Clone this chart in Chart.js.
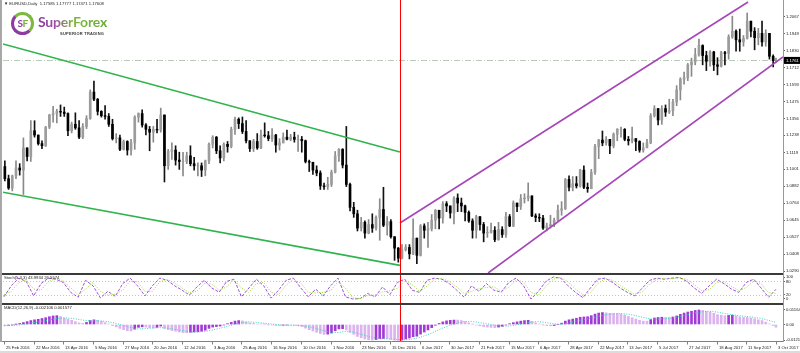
<!DOCTYPE html>
<html>
<head>
<meta charset="utf-8">
<script src="https://cdn.jsdelivr.net/npm/chart.js@4.4.0/dist/chart.umd.min.js"></script>
<style>
  html, body { margin: 0; padding: 0; background: #fff; }
  #wrap { position: relative; width: 800px; height: 353px; overflow: hidden; background: #fff; font-family: 'Liberation Sans', Arial, sans-serif; }
  canvas { position: absolute; left: 0; }
  .sep { position: absolute; left: 0; width: 783px; height: 2px; background: #3a3a3a; }
  .txt { position: absolute; font-size: 4.2px; line-height: 1; color: #222; white-space: nowrap; }
  #leftEdge { position: absolute; left: 0; top: 0; width: 2px; height: 342px; background: #a8a8a8; }
  #axisLine { position: absolute; left: 783px; top: 0; width: 1px; height: 342px; background: #999; }
  #bottomStrip { position: absolute; left: 0; top: 351px; width: 800px; height: 2px; background: #dcdcdc; }
  #ring { position: absolute; left: 11px; top: 12px; width: 17px; height: 17px; border: 3px solid; border-color: #7db83f #7db83f #8e3b9f #8e3b9f; border-radius: 50%;
          font: bold 10px Lato, sans-serif; line-height: 17px; text-align: center; letter-spacing: -0.5px; }
  #ring span.s { color: #8e3b9f; }
  #ring span.f { color: #76b43c; }
  #brand { position: absolute; left: 38px; top: 15px; font: bold 14px Lato, sans-serif; line-height: 1; letter-spacing: -0.2px;
           background: linear-gradient(90deg, #8a3a9e 0%, #9a4aa6 25%, #80b83e 50%, #6aa834 100%);
           -webkit-background-clip: text; background-clip: text; color: transparent; }
  #tag { position: absolute; left: 60px; top: 32px; font: bold 4px 'Liberation Sans', Arial, sans-serif; line-height: 1; color: #3a3a3a; letter-spacing: 0.25px; }
</style>
</head>
<body>
<div id="wrap">
  <canvas id="price" width="800" height="273" style="top:0px"></canvas>
  <canvas id="stoch" width="800" height="28" style="top:275px"></canvas>
  <canvas id="macd" width="800" height="48" style="top:305px"></canvas>
  <div class="sep" style="top:273px"></div>
  <div class="sep" style="top:303px"></div>
  <div id="leftEdge"></div>
  <div id="axisLine"></div>
  <div id="bottomStrip"></div>
  <div class="txt" style="left:4px;top:2px;">&#9660; EURUSD,Daily&nbsp; 1.17585 1.17777 1.17471 1.17608</div>
  <div class="txt" style="left:4px;top:276px;">Stoch(5,3,3) 43.9934 26.5574</div>
  <div class="txt" style="left:4px;top:306px;">MACD(12,26,9) -0.002106 0.001577</div>
  <div id="ring"><span class="s">S</span><span class="f">F</span></div>
  <div id="brand">SuperForex</div>
  <div id="tag">SUPERIOR TRADING</div>
</div>
<script>
// --- datos (velas de 2 sesiones) ---
const dateLabels = ['25 Feb 2016', '22 Mar 2016', '13 Apr 2016', '5 May 2016', '27 May 2016', '20 Jun 2016', '12 Jul 2016',
  '3 Aug 2016', '25 Aug 2016', '16 Sep 2016', '10 Oct 2016', '1 Nov 2016', '23 Nov 2016', '15 Dec 2016', '6 Jan 2017',
  '30 Jan 2017', '21 Feb 2017', '15 Mar 2017', '6 Apr 2017', '28 Apr 2017', '22 May 2017', '13 Jun 2017', '5 Jul 2017',
  '27 Jul 2017', '18 Aug 2017', '11 Sep 2017', '3 Oct 2017'];
const dateBars = [0, 16, 32, 48, 64, 80, 96, 112, 128, 144, 160, 176, 192, 208, 224, 240, 256, 272, 288, 304, 320, 336, 352, 368, 384, 400, 416];

const priceTicks = [1.2067, 1.1949, 1.1830, 1.1712, 1.1593, 1.1475, 1.1356, 1.1238, 1.1119, 1.1001, 1.0882, 1.0764, 1.0645, 1.0527, 1.0408, 1.0290];

const firstOpen = 1.1020;
const closeV = [
  1.0935, 1.0870, 1.0955, 1.1010, 1.0995, 1.1150, 1.1090, 1.1270, 1.1240, 1.1180, 1.1165, 1.1295, 1.1380, 1.1390, 1.1405, 1.1400,
  1.1390, 1.1270, 1.1315, 1.1290, 1.1225, 1.1300, 1.1355, 1.1540, 1.1490, 1.1405, 1.1375, 1.1370, 1.1315, 1.1215, 1.1220, 1.1140,
  1.1195, 1.1135, 1.1185, 1.1365, 1.1390, 1.1310, 1.1280, 1.1260, 1.1280, 1.1275, 1.1380, 1.1025, 1.1125, 1.1135, 1.1065, 1.1055,
  1.1055, 1.1095, 1.1040, 1.1025, 1.1025, 1.0995, 1.1060, 1.1175, 1.1225, 1.1130, 1.1080, 1.1175, 1.1160, 1.1280, 1.1350, 1.1320,
  1.1265, 1.1200, 1.1145, 1.1195, 1.1150, 1.1240, 1.1235, 1.1215, 1.1240, 1.1170, 1.1185, 1.1225, 1.1210, 1.1225, 1.1210, 1.1210,
  1.1200, 1.1055, 1.1050, 1.0995, 1.0975, 1.0885, 1.0880, 1.0895, 1.0980, 1.1095, 1.1140, 1.1030, 1.0895, 1.0735, 1.0690, 1.0590,
  1.0630, 1.0555, 1.0615, 1.0590, 1.0665, 1.0720, 1.0610, 1.0635, 1.0530, 1.0450, 1.0380, 1.0440, 1.0455, 1.0410, 1.0520, 1.0400,
  1.0605, 1.0575, 1.0585, 1.0645, 1.0715, 1.0660, 1.0760, 1.0745, 1.0695, 1.0800, 1.0765, 1.0745, 1.0700, 1.0640, 1.0575, 1.0670,
  1.0615, 1.0555, 1.0560, 1.0575, 1.0510, 1.0580, 1.0545, 1.0670, 1.0605, 1.0765, 1.0740, 1.0795, 1.0800, 1.0815, 1.0675, 1.0665,
  1.0660, 1.0590, 1.0605, 1.0615, 1.0645, 1.0715, 1.0725, 1.0930, 1.0875, 1.0900, 1.0885, 1.0995, 1.0875, 1.0865, 1.0980, 1.1160,
  1.1205, 1.1185, 1.1210, 1.1165, 1.1245, 1.1280, 1.1280, 1.1210, 1.1200, 1.1215, 1.1195, 1.1135, 1.1150, 1.1185, 1.1375, 1.1425,
  1.1345, 1.1425, 1.1400, 1.1410, 1.1470, 1.1555, 1.1630, 1.1640, 1.1730, 1.1750, 1.1800, 1.1865, 1.1795, 1.1755, 1.1820, 1.1730,
  1.1720, 1.1815, 1.1810, 1.1925, 1.1965, 1.1905, 1.1890, 1.1915, 1.2035, 1.1965, 1.1920, 1.1950, 1.1890, 1.1950, 1.1790, 1.1759,
  1.1761];
const highV = [
  1.1060, 1.0960, 1.0960, 1.1060, 1.1040, 1.1220, 1.1150, 1.1340, 1.1340, 1.1240, 1.1200, 1.1300, 1.1385, 1.1440, 1.1420, 1.1450,
  1.1435, 1.1395, 1.1330, 1.1395, 1.1340, 1.1320, 1.1375, 1.1555, 1.1616, 1.1495, 1.1410, 1.1445, 1.1390, 1.1350, 1.1250, 1.1240,
  1.1205, 1.1200, 1.1210, 1.1375, 1.1395, 1.1416, 1.1320, 1.1300, 1.1300, 1.1350, 1.1428, 1.1380, 1.1140, 1.1185, 1.1165, 1.1120,
  1.1120, 1.1120, 1.1165, 1.1085, 1.1045, 1.1045, 1.1065, 1.1185, 1.1235, 1.1230, 1.1165, 1.1185, 1.1195, 1.1295, 1.1365, 1.1360,
  1.1366, 1.1340, 1.1200, 1.1210, 1.1250, 1.1275, 1.1325, 1.1265, 1.1285, 1.1245, 1.1215, 1.1255, 1.1275, 1.1245, 1.1260, 1.1240,
  1.1230, 1.1205, 1.1065, 1.1050, 1.1025, 1.0990, 1.0905, 1.0945, 1.0995, 1.1125, 1.1145, 1.1145, 1.1300, 1.0905, 1.0770, 1.0715,
  1.0665, 1.0640, 1.0650, 1.0690, 1.0675, 1.0795, 1.0875, 1.0670, 1.0650, 1.0530, 1.0455, 1.0475, 1.0475, 1.0475, 1.0655, 1.0520,
  1.0615, 1.0620, 1.0630, 1.0685, 1.0720, 1.0715, 1.0775, 1.0775, 1.0745, 1.0810, 1.0829, 1.0800, 1.0750, 1.0710, 1.0655, 1.0680,
  1.0670, 1.0630, 1.0600, 1.0625, 1.0600, 1.0630, 1.0600, 1.0700, 1.0685, 1.0780, 1.0765, 1.0825, 1.0830, 1.0906, 1.0815, 1.0690,
  1.0690, 1.0680, 1.0625, 1.0680, 1.0660, 1.0750, 1.0775, 1.0937, 1.0955, 1.0950, 1.0950, 1.1000, 1.1025, 1.0905, 1.1000, 1.1175,
  1.1210, 1.1268, 1.1230, 1.1210, 1.1255, 1.1285, 1.1295, 1.1285, 1.1230, 1.1296, 1.1215, 1.1200, 1.1185, 1.1210, 1.1390, 1.1445,
  1.1425, 1.1445, 1.1450, 1.1490, 1.1490, 1.1585, 1.1640, 1.1680, 1.1740, 1.1777, 1.1845, 1.1910, 1.1870, 1.1825, 1.1830, 1.1825,
  1.1780, 1.1825, 1.1825, 1.1940, 1.2070, 1.1975, 1.1980, 1.1935, 1.2092, 1.2035, 1.1990, 1.1985, 1.2035, 1.1975, 1.1950, 1.1800,
  1.1778];
const lowV = [
  1.0920, 1.0860, 1.0850, 1.0935, 1.0960, 1.0825, 1.1060, 1.1055, 1.1225, 1.1170, 1.1145, 1.1160, 1.1285, 1.1330, 1.1325, 1.1370,
  1.1370, 1.1235, 1.1255, 1.1280, 1.1215, 1.1215, 1.1285, 1.1350, 1.1480, 1.1380, 1.1365, 1.1350, 1.1300, 1.1205, 1.1185, 1.1130,
  1.1135, 1.1100, 1.1100, 1.1140, 1.1330, 1.1295, 1.1240, 1.1130, 1.1190, 1.1255, 1.1260, 1.0912, 1.1000, 1.1070, 1.1030, 1.1000,
  1.0955, 1.1040, 1.1025, 1.0995, 1.0955, 1.0950, 1.0955, 1.1040, 1.1150, 1.1110, 1.1045, 1.1060, 1.1120, 1.1150, 1.1245, 1.1285,
  1.1250, 1.1185, 1.1125, 1.1125, 1.1140, 1.1145, 1.1225, 1.1200, 1.1195, 1.1120, 1.1135, 1.1185, 1.1205, 1.1200, 1.1190, 1.1125,
  1.1120, 1.1045, 1.0985, 1.0965, 1.0955, 1.0860, 1.0860, 1.0860, 1.0880, 1.0975, 1.1055, 1.1010, 1.0880, 1.0710, 1.0665, 1.0570,
  1.0570, 1.0520, 1.0550, 1.0560, 1.0575, 1.0505, 1.0600, 1.0540, 1.0520, 1.0365, 1.0352, 1.0375, 1.0430, 1.0375, 1.0405, 1.0341,
  1.0395, 1.0520, 1.0455, 1.0570, 1.0585, 1.0585, 1.0625, 1.0705, 1.0660, 1.0620, 1.0705, 1.0705, 1.0640, 1.0630, 1.0520, 1.0520,
  1.0575, 1.0494, 1.0525, 1.0555, 1.0495, 1.0505, 1.0525, 1.0525, 1.0600, 1.0600, 1.0705, 1.0720, 1.0765, 1.0780, 1.0670, 1.0635,
  1.0635, 1.0580, 1.0570, 1.0590, 1.0600, 1.0635, 1.0680, 1.0720, 1.0850, 1.0850, 1.0870, 1.0875, 1.0865, 1.0840, 1.0865, 1.0965,
  1.1075, 1.1165, 1.1170, 1.1110, 1.1150, 1.1200, 1.1225, 1.1200, 1.1170, 1.1185, 1.1130, 1.1120, 1.1120, 1.1160, 1.1180, 1.1365,
  1.1310, 1.1315, 1.1370, 1.1390, 1.1375, 1.1445, 1.1485, 1.1595, 1.1620, 1.1650, 1.1730, 1.1790, 1.1730, 1.1690, 1.1720, 1.1690,
  1.1660, 1.1715, 1.1730, 1.1770, 1.1915, 1.1825, 1.1825, 1.1860, 1.1910, 1.1925, 1.1835, 1.1870, 1.1860, 1.1860, 1.1770, 1.1715,
  1.1747];

// Estocastico, un punto cada 4 sesiones
const stochK = [10, 60, 95, 80, 14, 70, 95, 90, 75, 30, 8, 85, 60, 5, 35, 12, 70, 95, 60, 14, 60, 95, 85, 60, 40, 18,
  55, 85, 50, 31, 80, 90, 10, 50, 90, 60, 4, 40, 85, 95, 50, 10, 45, 14, 60, 95, 10, 0, 2, 25, 10, 55, 20, 75,
  90, 40, 30, 85, 95, 90, 70, 40, 8, 60, 35, 70, 40, 31, 75, 95, 60, 0, 35, 80, 100, 95, 60, 30, 6, 50, 90, 95,
  75, 50, 30, 14, 50, 85, 95, 90, 95, 98, 80, 50, 25, 60, 90, 70, 45, 30, 75, 90, 50, 8, 44];
const stochD = [20, 35, 75, 88, 45, 40, 80, 93, 82, 50, 20, 45, 75, 35, 18, 22, 40, 82, 78, 35, 35, 78, 90, 72, 50, 28,
  35, 70, 68, 40, 55, 88, 50, 30, 70, 75, 30, 20, 62, 90, 72, 30, 28, 30, 38, 78, 50, 5, 2, 15, 18, 32, 38, 48,
  82, 65, 35, 58, 90, 93, 80, 55, 25, 34, 48, 52, 55, 36, 53, 85, 78, 30, 17, 58, 90, 98, 78, 45, 18, 28, 70, 92,
  85, 62, 40, 22, 32, 68, 90, 93, 92, 96, 89, 65, 38, 42, 75, 80, 58, 38, 52, 82, 70, 29, 26];
const stochTicks = [0, 20, 80, 100];
const stochLevels = [20, 80];

// MACD: histograma cada 2 sesiones, senal cada 4
const macdMain = [
  -0.0008, -0.0006, -0.0003, 0.0001, 0.0008, 0.0015, 0.0022, 0.0030, 0.0036, 0.0040, 0.0046, 0.0052, 0.0060, 0.0066, 0.0068, 0.0062,
  0.0050, 0.0040, 0.0032, 0.0022, 0.0012, 0.0008, 0.0016, 0.0030, 0.0036, 0.0032, 0.0024, 0.0014, 0.0004, -0.0008, -0.0018, -0.0030,
  -0.0040, -0.0048, -0.0050, -0.0036, -0.0022, -0.0018, -0.0020, -0.0024, -0.0026, -0.0022, -0.0012, -0.0030, -0.0040, -0.0046, -0.0052, -0.0058,
  -0.0062, -0.0063, -0.0060, -0.0058, -0.0056, -0.0052, -0.0044, -0.0030, -0.0020, -0.0016, -0.0012, -0.0004, 0.0006, 0.0016, 0.0026, 0.0030,
  0.0028, 0.0020, 0.0012, 0.0008, 0.0004, 0.0004, 0.0002, -0.0002, -0.0004, -0.0008, -0.0008, -0.0006, -0.0004, -0.0004, -0.0006, -0.0010,
  -0.0016, -0.0028, -0.0040, -0.0050, -0.0060, -0.0070, -0.0076, -0.0074, -0.0066, -0.0048, -0.0034, -0.0032, -0.0042, -0.0060, -0.0076, -0.0092,
  -0.0102, -0.0112, -0.0118, -0.0120, -0.0116, -0.0110, -0.0108, -0.0110, -0.0114, -0.0120, -0.0123, -0.0120, -0.0112, -0.0104, -0.0094, -0.0090,
  -0.0074, -0.0058, -0.0042, -0.0024, -0.0006, 0.0008, 0.0020, 0.0028, 0.0032, 0.0034, 0.0034, 0.0030, 0.0022, 0.0012, 0.0002, -0.0004,
  -0.0010, -0.0016, -0.0020, -0.0022, -0.0024, -0.0020, -0.0014, -0.0004, 0.0006, 0.0014, 0.0020, 0.0026, 0.0030, 0.0032, 0.0024, 0.0012,
  0.0004, -0.0002, -0.0008, -0.0010, -0.0008, 0.0000, 0.0010, 0.0026, 0.0036, 0.0042, 0.0048, 0.0056, 0.0058, 0.0060, 0.0068, 0.0080,
  0.0088, 0.0092, 0.0090, 0.0086, 0.0084, 0.0084, 0.0080, 0.0072, 0.0062, 0.0052, 0.0042, 0.0032, 0.0026, 0.0026, 0.0038, 0.0050,
  0.0054, 0.0056, 0.0054, 0.0054, 0.0058, 0.0066, 0.0078, 0.0088, 0.0096, 0.0102, 0.0108, 0.0112, 0.0108, 0.0100, 0.0096, 0.0086,
  0.0076, 0.0072, 0.0068, 0.0070, 0.0072, 0.0066, 0.0058, 0.0054, 0.0054, 0.0050, 0.0044, 0.0036, 0.0030, 0.0018, 0.0004, -0.0008,
  -0.0021];
const macdSignal = [
  -0.0010, -0.0008, -0.0004, 0.0004, 0.0014, 0.0024, 0.0034, 0.0044, 0.0050, 0.0048, 0.0040, 0.0030, 0.0028, 0.0028, 0.0022,
  0.0010, -0.0006, -0.0022, -0.0034, -0.0032, -0.0028, -0.0024, -0.0028, -0.0038, -0.0048, -0.0056, -0.0058, -0.0054, -0.0044,
  -0.0030, -0.0016, 0.0000, 0.0014, 0.0020, 0.0016, 0.0010, 0.0004, -0.0002, -0.0005, -0.0006, -0.0008, -0.0016, -0.0030,
  -0.0046, -0.0060, -0.0062, -0.0054, -0.0058, -0.0074, -0.0090, -0.0104, -0.0110, -0.0112, -0.0116, -0.0118, -0.0112, -0.0100,
  -0.0080, -0.0056, -0.0030, -0.0008, 0.0010, 0.0022, 0.0024, 0.0016, 0.0006, -0.0004, -0.0012, -0.0012, -0.0004, 0.0008,
  0.0018, 0.0022, 0.0016, 0.0006, 0.0002, 0.0008, 0.0022, 0.0036, 0.0048, 0.0062, 0.0074, 0.0082, 0.0084, 0.0080, 0.0070,
  0.0056, 0.0044, 0.0040, 0.0044, 0.0050, 0.0060, 0.0074, 0.0088, 0.0098, 0.0102, 0.0096, 0.0086, 0.0076, 0.0068, 0.0062,
  0.0056, 0.0046, 0.0032, 0.0016];
const macdTicks = [-0.01218, 0, 0.011646];

// objetos dibujados sobre el grafico (sesion, precio)
const greenUpper = [{ x: -0.5, y: 1.1876 }, { x: 213.4, y: 1.1121 }];
const greenLower = [{ x: -0.5, y: 1.0840 }, { x: 213.4, y: 1.0330 }];
const purpleUpper = [{ x: 213.4, y: 1.0626 }, { x: 400.96, y: 1.2169 }];
const purpleLower = [{ x: 260.9, y: 1.02765 }, { x: 419.8, y: 1.1785 }];
const redLineBar = 213.4;

// ---- configuracion comun ----
const FONT = 'Liberation Sans';
const last = closeV.length - 1;
const lastClose = closeV[last];
const candleX = (j) => (j < last ? 2 * j + 0.5 : 2 * j);

const xAxis = { type: 'linear', display: false, min: -0.5, max: 419.8, offset: false };

const rightAxis = (min, max, ticks, fmt) => ({
  type: 'linear',
  position: 'right',
  min,
  max,
  afterFit: (s) => { s.width = 17; s.paddingTop = 0; s.paddingBottom = 0; },
  afterBuildTicks: (s) => { s.ticks = ticks.map(v => ({ value: v })); },
  grid: { drawOnChartArea: false, drawTicks: true, tickLength: 2, color: '#666', lineWidth: 1 },
  border: { display: false },
  ticks: { autoSkip: false, padding: 1, color: '#222', font: { family: FONT, size: 4.2 }, callback: fmt }
});

const baseOptions = (yScale, padBottom) => ({
  responsive: false,
  maintainAspectRatio: false,
  animation: false,
  devicePixelRatio: 1,
  events: [],
  layout: { padding: { left: 3, right: 0, top: 0, bottom: padBottom || 0 } },
  plugins: { legend: { display: false }, tooltip: { enabled: false } },
  scales: { x: xAxis, y: yScale }
});

const redLine = {
  id: 'redLine',
  afterDatasetsDraw(chart) {
    const { ctx, chartArea, scales } = chart;
    const x = Math.round(scales.x.getPixelForValue(redLineBar)) + 0.5;
    ctx.save();
    ctx.strokeStyle = '#ff0000';
    ctx.lineWidth = 1;
    ctx.beginPath();
    ctx.moveTo(x, chartArea.top);
    ctx.lineTo(x, chartArea.bottom);
    ctx.stroke();
    ctx.restore();
  }
};

// linea de precio (bid) y recuadro en el eje
const bidLine = {
  id: 'bidLine',
  beforeDatasetsDraw(chart) {
    const { ctx, chartArea, scales } = chart;
    const y = Math.round(scales.y.getPixelForValue(lastClose)) + 0.5;
    ctx.save();
    ctx.strokeStyle = '#b9cdb9';
    ctx.lineWidth = 1;
    ctx.setLineDash([6, 2, 1, 2]);
    ctx.beginPath();
    ctx.moveTo(chartArea.left, y);
    ctx.lineTo(chartArea.right, y);
    ctx.stroke();
    ctx.restore();
  },
  afterDraw(chart) {
    const { ctx, chartArea, scales } = chart;
    const y = scales.y.getPixelForValue(lastClose);
    ctx.save();
    ctx.fillStyle = '#000';
    ctx.fillRect(chartArea.right + 1, y - 3.5, 16, 7);
    ctx.fillStyle = '#fff';
    ctx.font = '4.2px ' + FONT;
    ctx.textBaseline = 'middle';
    ctx.fillText(lastClose.toFixed(4), chartArea.right + 3, y);
    ctx.restore();
  }
};

// ---- precio ----
const opens = [firstOpen, ...closeV.slice(0, last)];
const isBull = closeV.map((c, j) => c >= opens[j]);

const trend = (data, color) => ({
  type: 'line', data, borderColor: color, borderWidth: 1.6, pointRadius: 0, fill: false, order: 0
});

new Chart(document.getElementById('price'), {
  type: 'bar',
  data: {
    datasets: [
      trend(greenUpper, '#2fb34c'),
      trend(greenLower, '#2fb34c'),
      trend(purpleUpper, '#a646b8'),
      trend(purpleLower, '#a646b8'),
      {
        label: 'cuerpo',
        data: closeV.map((c, j) => ({ x: candleX(j), y: [opens[j], c] })),
        backgroundColor: isBull.map(b => (b ? '#9c9c9c' : '#000')),
        barThickness: 2,
        grouped: false,
        order: 1
      },
      {
        label: 'mecha',
        data: closeV.map((c, j) => ({ x: candleX(j), y: [lowV[j], highV[j]] })),
        backgroundColor: isBull.map(b => (b ? '#8a8a8a' : '#111')),
        barThickness: 1,
        grouped: false,
        order: 2
      }
    ]
  },
  options: baseOptions(rightAxis(1.02765, 1.21829, priceTicks, v => v.toFixed(4))),
  plugins: [bidLine, redLine]
});

// ---- estocastico ----
const stochLevelLines = {
  id: 'stochLevels',
  beforeDatasetsDraw(chart) {
    const { ctx, chartArea, scales } = chart;
    ctx.save();
    ctx.strokeStyle = '#c4c4c4';
    ctx.lineWidth = 1;
    ctx.setLineDash([1, 2]);
    stochLevels.forEach(l => {
      const y = Math.round(scales.y.getPixelForValue(l)) + 0.5;
      ctx.beginPath();
      ctx.moveTo(chartArea.left, y);
      ctx.lineTo(chartArea.right, y);
      ctx.stroke();
    });
    ctx.restore();
  }
};

new Chart(document.getElementById('stoch'), {
  type: 'line',
  data: {
    datasets: [
      {
        label: '%D',
        data: stochD.map((v, k) => ({ x: k * 4, y: v })),
        borderColor: '#94dc3c',
        borderWidth: 1,
        borderDash: [1, 1.5],
        pointRadius: 0,
        tension: 0,
        order: 0
      },
      {
        label: '%K',
        data: stochK.map((v, k) => ({ x: k * 4, y: v })),
        borderColor: '#a24fd8',
        borderWidth: 1,
        borderDash: [3, 1.5],
        pointRadius: 0,
        tension: 0,
        order: 1
      }
    ]
  },
  options: baseOptions(rightAxis(-18.2, 109.1, stochTicks, v => String(v))),
  plugins: [stochLevelLines, redLine]
});

// ---- MACD + eje de fechas ----
const dateAxis = {
  id: 'dateAxis',
  afterDraw(chart) {
    const { ctx, chartArea, scales } = chart;
    const y0 = Math.round(chartArea.bottom) + 0.5;
    ctx.save();
    ctx.strokeStyle = '#808080';
    ctx.lineWidth = 1;
    ctx.beginPath();
    ctx.moveTo(0, y0);
    ctx.lineTo(chartArea.right, y0);
    ctx.stroke();
    ctx.fillStyle = '#222';
    ctx.font = '4.2px ' + FONT;
    ctx.textBaseline = 'middle';
    dateBars.forEach((b, i) => {
      const x = Math.round(scales.x.getPixelForValue(b)) + 0.5;
      ctx.beginPath();
      ctx.moveTo(x, y0);
      ctx.lineTo(x, y0 + 3);
      ctx.stroke();
      ctx.fillText(dateLabels[i], x + 1.5, y0 + 6);
    });
    ctx.restore();
  }
};

new Chart(document.getElementById('macd'), {
  type: 'bar',
  data: {
    datasets: [
      {
        type: 'line',
        label: 'Signal',
        data: macdSignal.map((v, k) => ({ x: k * 4, y: v })),
        borderColor: '#35d3b6',
        borderWidth: 1,
        borderDash: [1, 1.5],
        pointRadius: 0,
        order: 0
      },
      {
        label: 'MACD',
        data: macdMain.map((v, j) => ({ x: candleX(j), y: v })),
        backgroundColor: macdMain.map((v, j) => (j > 0 && v > macdMain[j - 1] ? '#a23bd6' : '#dcb3ef')),
        barThickness: 2,
        grouped: false,
        order: 1
      }
    ]
  },
  options: baseOptions(rightAxis(-0.0127, 0.0150, macdTicks, v => (v === 0 ? '0.00' : v.toFixed(6))), 12),
  plugins: [dateAxis, redLine]
});
</script>
</body>
</html>
